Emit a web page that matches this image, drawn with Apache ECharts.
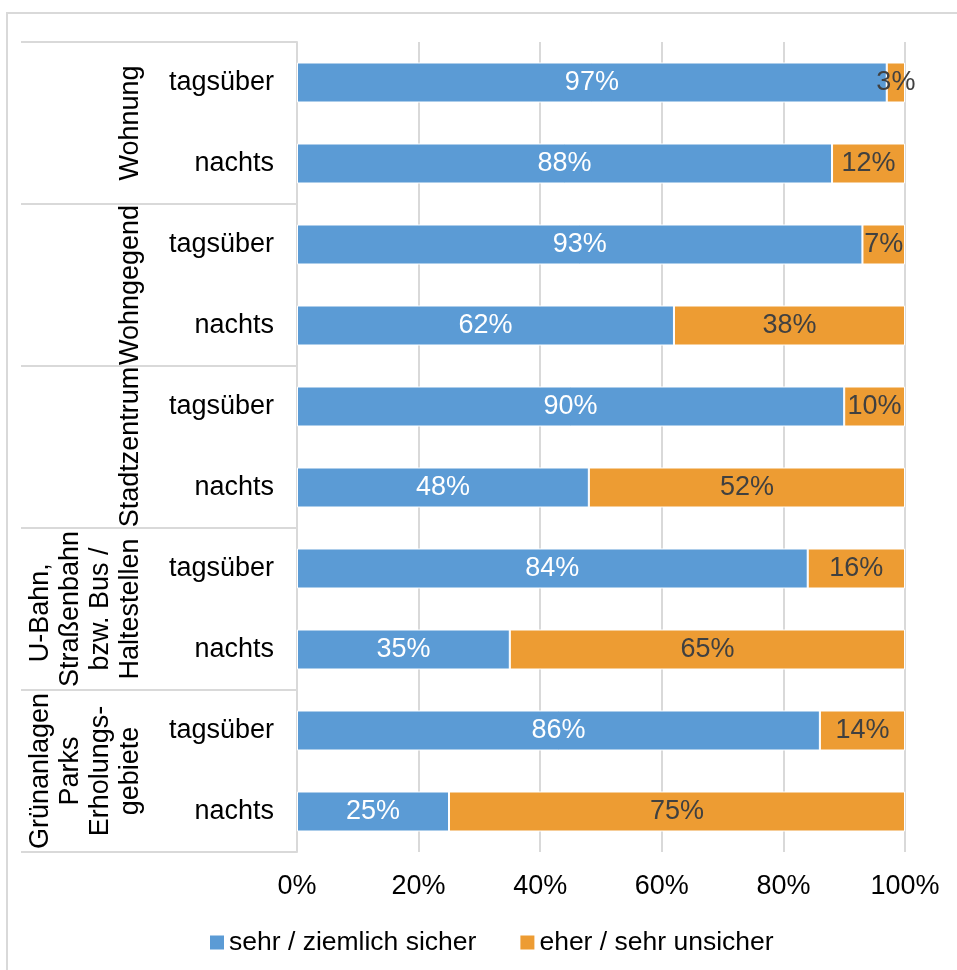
<!DOCTYPE html>
<html>
<head>
<meta charset="utf-8">
<script src="https://cdn.jsdelivr.net/npm/echarts@6/dist/echarts.min.js"></script>
<style>
html,body{margin:0;padding:0;background:#fff;}
#chart{width:957px;height:970px;}
</style>
</head>
<body>
<div id="chart"></div>
<script>
const groups = ['Wohnung', 'Wohngegend', 'Stadtzentrum', 'U-Bahn, \nStraßenbahn\nbzw. Bus /\nHaltestellen', 'Grünanlagen\nParks\nErholungs-\ngebiete'];
const rows = ['tagsüber', 'nachts', 'tagsüber', 'nachts', 'tagsüber', 'nachts', 'tagsüber', 'nachts', 'tagsüber', 'nachts'];
const seriesNames = ['sehr / ziemlich sicher', 'eher / sehr unsicher'];
const sicher = [97, 88, 93, 62, 90, 48, 84, 35, 86, 25];
const unsicher = [3, 12, 7, 38, 10, 52, 16, 65, 14, 75];
const xTicks = [0, 20, 40, 60, 80, 100];

const FONT = "'Liberation Sans', Arial, sans-serif";
const FS = 27;
const GRID_COLOR = '#d9d9d9';

const chart = echarts.init(document.getElementById('chart'), null, {renderer: 'canvas'});
chart.setOption({
  backgroundColor: '#fff',
  animation: false,
  textStyle: {fontFamily: FONT},
  graphic: [{
    type: 'rect', silent: true, z: -10,
    shape: {x: 7, y: 13, width: 1000, height: 1000},
    style: {fill: 'none', stroke: GRID_COLOR, lineWidth: 2}
  }],
  grid: {left: 297, right: 52, top: 42, bottom: 118, containLabel: false},
  legend: {
    left: 205, top: 924,
    icon: 'rect', itemWidth: 14, itemHeight: 14, itemGap: 44,
    itemStyle: {borderWidth: 0},
    textStyle: {fontSize: 26.5, color: '#000', fontFamily: FONT},
    data: seriesNames
  },
  xAxis: {
    type: 'value', min: xTicks[0], max: xTicks[xTicks.length - 1], interval: 20,
    axisLine: {show: false}, axisTick: {show: false},
    splitLine: {show: true, lineStyle: {color: GRID_COLOR, width: 2}},
    axisLabel: {formatter: '{value}%', fontSize: FS, color: '#000', margin: 21, fontFamily: FONT}
  },
  yAxis: [{
    type: 'category', data: rows, inverse: true, position: 'left',
    axisLine: {show: true, lineStyle: {color: GRID_COLOR, width: 2}},
    axisTick: {show: false},
    splitLine: {show: false},
    axisLabel: {fontSize: FS, color: '#000', margin: 23, interval: 0, fontFamily: FONT}
  }, {
    type: 'category', data: groups, inverse: true, position: 'left',
    axisLine: {show: false},
    axisTick: {show: true, length: 276, lineStyle: {color: GRID_COLOR, width: 2}},
    splitLine: {show: false},
    axisLabel: {fontSize: FS, color: '#000', margin: 151, rotate: 90, interval: 0, lineHeight: 30, fontFamily: FONT}
  }],
  series: [{
    name: seriesNames[0], type: 'bar', stack: 'a', data: sicher, yAxisIndex: 0,
    barWidth: 40,
    itemStyle: {color: '#5b9bd5', borderColor: '#fff', borderWidth: 1},
    label: {show: true, position: 'inside', formatter: '{c}%', color: '#fff', fontSize: FS, fontFamily: FONT}
  }, {
    name: seriesNames[1], type: 'bar', stack: 'a', data: unsicher, yAxisIndex: 0,
    barWidth: 40,
    itemStyle: {color: '#ed9c33', borderColor: '#fff', borderWidth: 1},
    label: {show: true, position: 'inside', formatter: '{c}%', color: '#404040', fontSize: FS, fontFamily: FONT}
  }]
});
</script>
</body>
</html>
